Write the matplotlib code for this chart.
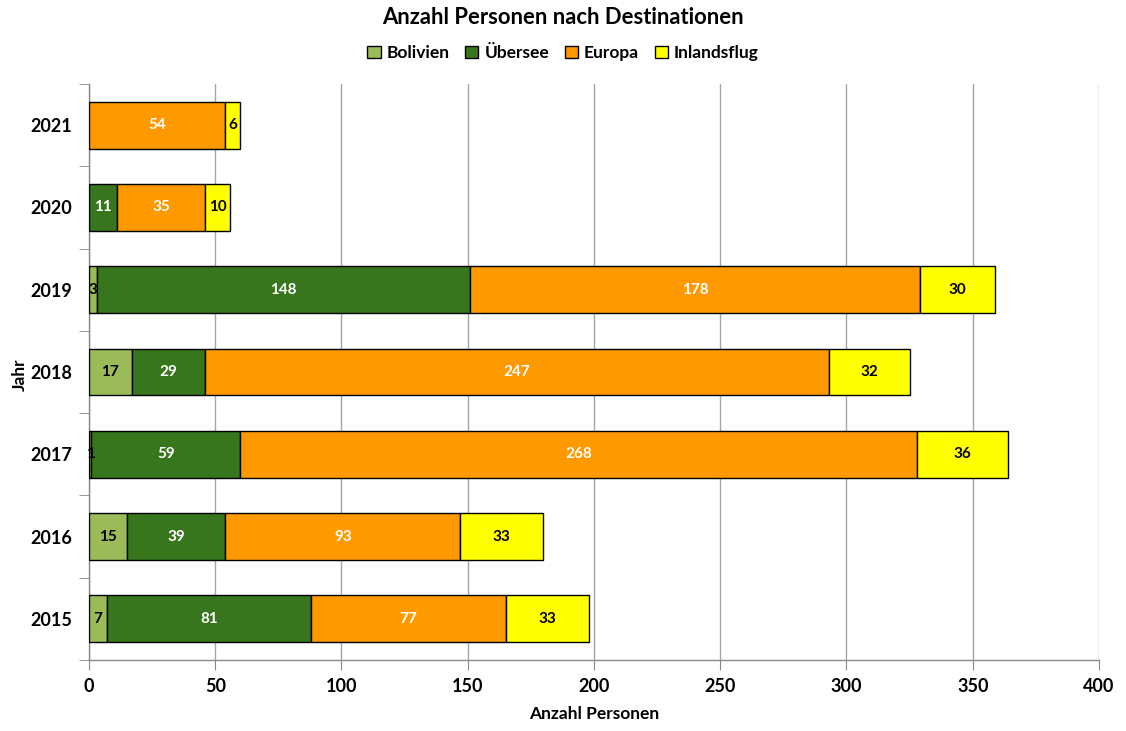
import matplotlib
matplotlib.use("Agg")
import matplotlib.pyplot as plt
import numpy as np

plt.rcParams['font.family'] = ['Lato', 'DejaVu Sans']
plt.rcParams['font.weight'] = 'bold'

years = ['2015', '2016', '2017', '2018', '2019', '2020', '2021']
series = ['Bolivien', 'Übersee', 'Europa', 'Inlandsflug']
bolivien = [7, 15, 1, 17, 3, 0, 0]
uebersee = [81, 39, 59, 29, 148, 11, 0]
europa = [77, 93, 268, 247, 178, 35, 54]
inland = [33, 33, 36, 32, 30, 10, 6]
colors = ['#9BBB59', '#38761D', '#FF9900', '#FFFF00']
text_colors = ['black', 'white', 'white', 'black']

fig = plt.figure(figsize=(11.26, 7.31), dpi=100)
ax = fig.add_axes([0.079, 0.0971, 0.897, 0.788])

y = np.arange(len(years))
left = np.zeros(len(years))
for name, vals, col, tc in zip(series, [bolivien, uebersee, europa, inland], colors, text_colors):
    vals = np.array(vals, dtype=float)
    ax.barh(y, vals, left=left, height=0.57, color=col, edgecolor='black',
            linewidth=1.0, label=name, zorder=3)
    for yi, v, l in zip(y, vals, left):
        if v > 0:
            ax.text(l + v / 2, yi, f'{int(v)}', ha='center', va='center',
                    color=tc, fontsize=11, fontweight='bold', zorder=4)
    left += vals

ax.set_xlim(0, 400)
ax.set_ylim(-0.5, len(years) - 0.5)
ax.set_xticks(np.arange(0, 401, 50))
ax.set_yticks(y)
ax.set_yticklabels(years)
ax.set_yticks(np.arange(-0.5, len(years), 1), minor=True)
ax.tick_params(axis='y', which='major', length=0, pad=12, labelsize=13)
ax.tick_params(axis='y', which='minor', length=7, color='#888888', direction='out')
ax.tick_params(axis='x', which='major', length=7, color='#888888', labelsize=13, pad=6)
ax.grid(axis='x', color='#A6A6A6', linewidth=1.0, zorder=0)
for s in ['top', 'right']:
    ax.spines[s].set_visible(False)
for s in ['left', 'bottom']:
    ax.spines[s].set_color('#888888')
    ax.spines[s].set_linewidth(1.0)

ax.set_xlabel('Anzahl Personen', fontsize=12.5, fontweight='bold', labelpad=8)
fig.text(20 / 1126, 1 - 375 / 731, 'Jahr', rotation=90, ha='center', va='center',
         fontsize=12.5, fontweight='bold')

fig.text(0.5, 1 - 17 / 731, 'Anzahl Personen nach Destinationen', ha='center', va='center',
         fontsize=15.8, fontweight='bold')
fig.legend(loc='center', bbox_to_anchor=(0.5, 1 - 53 / 731), ncol=4, frameon=False,
           fontsize=12.5, handlelength=0.75, handleheight=0.75, columnspacing=0.9,
           handletextpad=0.35)

fig.savefig('out.png', dpi=100)
